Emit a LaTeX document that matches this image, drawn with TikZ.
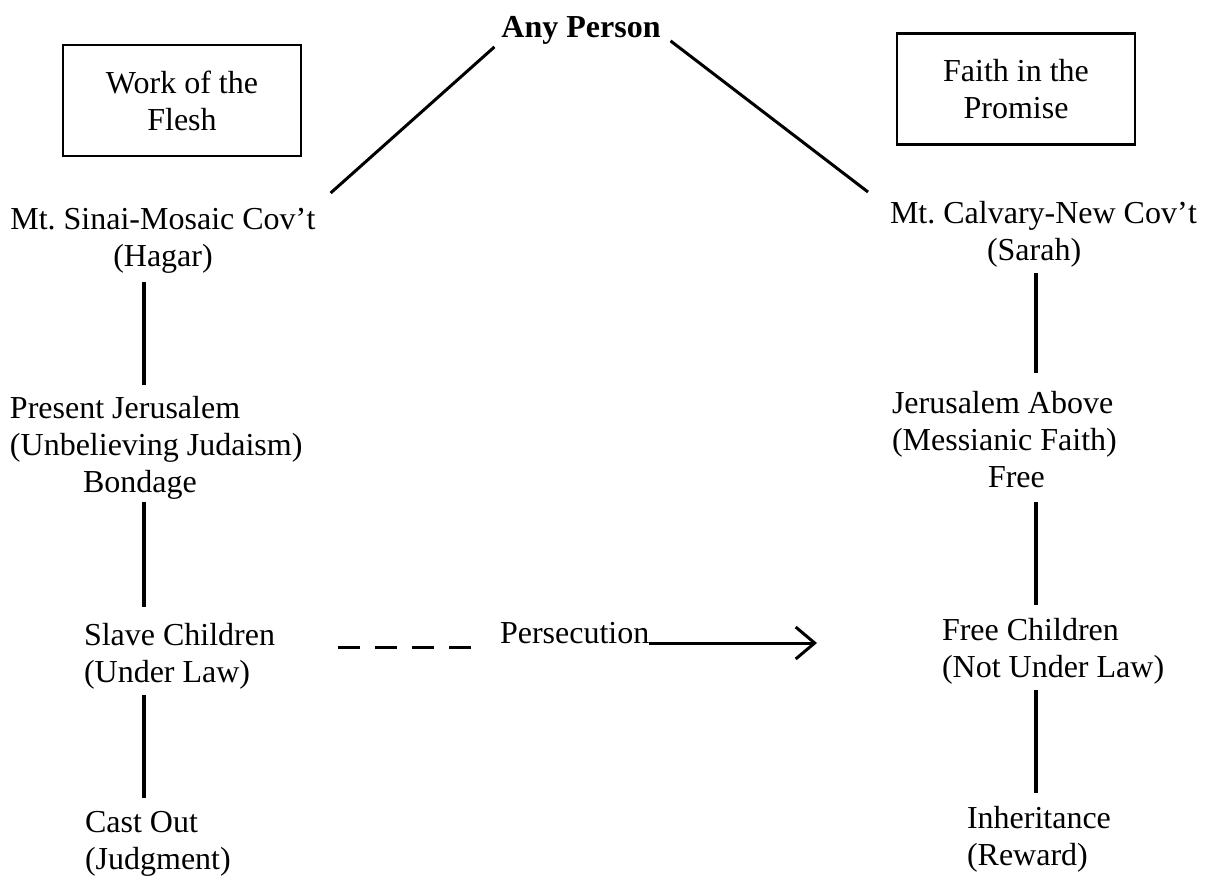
\documentclass[tikz,border=0pt]{standalone}
\usepackage{fontspec}
\setmainfont{Liberation Serif}
\usetikzlibrary{arrows.meta}
\begin{document}
\begin{tikzpicture}[x=0.5pt,y=-0.5pt,
  txt/.style={inner sep=0pt,outer sep=0pt,font=\fontsize{16pt}{18.5pt}\selectfont},
  box/.style={txt,draw,line width=1.3pt,align=center,minimum width=119pt,minimum height=55.5pt},
  conn/.style={line width=2pt},
  slant/.style={line width=1.5pt},
  dashline/.style={line width=1.5pt,dash pattern=on 11pt off 7.5pt},
  arr/.style={line width=1.5pt,-{Straight Barb[length=9.5pt,width=16pt]}}
]
\useasboundingbox (0,0) rectangle (1209,878);

% title
\node[txt,font=\fontsize{16pt}{18.5pt}\selectfont\bfseries,anchor=base] (any) at (581,37) {Any Person};

% boxes
\node[box] (work) at (182,100.5) {Work of the\\Flesh};
\node[box] (faith) at (1016,89) {Faith in the\\Promise};

% left column
\node[txt,anchor=north,align=center] (sinai) at (163,208) {Mt.\ Sinai-Mosaic Cov'\kern0.2pt t\\(Hagar)};
\node[txt,anchor=north west,align=left] (present) at (10,396) {Present Jerusalem\\(Unbelieving Judaism)\\\hspace*{36.5pt}Bondage};
\node[txt,anchor=north west,align=left] (slave) at (84,623) {Slave Children\\(Under Law)};
\node[txt,anchor=north west,align=left] (cast) at (85,811) {Cast Out\\(Judgment)};

% right column
\node[txt,anchor=north west,align=left] (calvary) at (890,201) {Mt.\ Calvary-New Cov'\kern0.2pt t\\\hspace*{48.5pt}(Sarah)};
\node[txt,anchor=north west,align=left] (above) at (892,391) {Jerusalem Above\\(Messianic Faith)\\\hspace*{48pt}Free};
\node[txt,anchor=north west,align=left] (freech) at (942,618) {Free Children\\(Not Under Law)};
\node[txt,anchor=north west,align=left] (inh) at (967,806) {Inheritance\\(Reward)};

% persecution
\node[txt,anchor=base west] (persec) at (500,643) {Persecution};

\coordinate (colL) at (144,0);
\coordinate (colR) at (1036,0);
\coordinate (dashstart) at (338,647);
\coordinate (arrowend) at (817,643);

% slanted connectors
\draw[slant] ([shift={(-7,3)}]any.south west) -- ([shift={(15,-15)}]sinai.north east);
\draw[slant] ([shift={(10,-3)}]any.south east) -- ([shift={(-22,-9)}]calvary.north west);

% vertical connectors left
\draw[conn,shorten <=4.5pt,shorten >=5.5pt] (sinai.south -| colL) -- (present.north -| colL);
\draw[conn,shorten <=1.5pt,shorten >=8pt] (present.south -| colL) -- (slave.north -| colL);
\draw[conn,shorten <=3pt,shorten >=6.5pt] (slave.south -| colL) -- (cast.north -| colL);

% vertical connectors right
\draw[conn,shorten <=3pt,shorten >=9pt] (calvary.south -| colR) -- (above.north -| colR);
\draw[conn,shorten <=7pt,shorten >=6.5pt] (above.south -| colR) -- (freech.north -| colR);
\draw[conn,shorten <=3pt,shorten >=6.5pt] (freech.south -| colR) -- (inh.north -| colR);

% persecution line
\draw[dashline,shorten >=13pt] (dashstart) -- (persec.west |- dashstart);
\draw[arr] (persec.base east) -- (arrowend);
\end{tikzpicture}
\end{document}
